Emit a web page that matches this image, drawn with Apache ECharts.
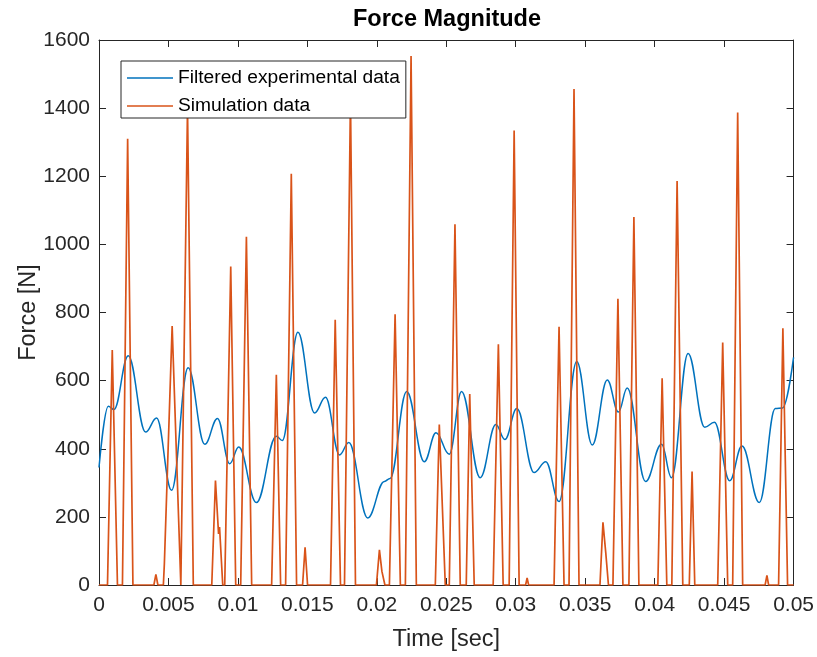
<!DOCTYPE html>
<html>
<head>
<meta charset="utf-8">
<script src="https://cdn.jsdelivr.net/npm/echarts@6/dist/echarts.min.js"></script>
<style>
html,body{margin:0;padding:0;background:#fff;}
#chart{width:817px;height:657px;}
</style>
</head>
<body>
<div id="chart"></div>
<script>
// ---- Data ----
const titleText = 'Force Magnitude';
const xName = 'Time [sec]';
const yName = 'Force [N]';
const seriesNames = ['Filtered experimental data', 'Simulation data'];

const xTickLabels = ['0','0.005','0.01','0.015','0.02','0.025','0.03','0.035','0.04','0.045','0.05'];
const yTickLabels = ['0','200','400','600','800','1000','1200','1400','1600'];

// Filtered experimental data (time in s, force in N) - local extrema / shoulders
const expTime = [0,0.000668,0.001078,0.002105,0.003355,0.004145,0.005223,0.006415,0.007615,0.008527,
  0.009411,0.010057,0.011329,0.012766,0.013197,0.014318,0.015517,0.016307,0.017313,0.017981,
  0.019346,0.020546,0.020955,0.022148,0.023420,0.024260,0.025216,0.026099,0.027443,0.028571,
  0.029217,0.030079,0.031322,0.032162,0.033118,0.034390,0.035510,0.036588,0.037392,0.038025,
  0.039346,0.040496,0.041214,0.042407,0.043606,0.044303,0.045402,0.046286,0.047536,0.048685,
  0.049210,0.05];
const expForce = [345,525,515,673,449,490,278,638,413,489,
  356,405,242,437,424,742,505,551,382,418,
  197,304,313,568,362,447,384,568,315,471,
  427,518,330,362,245,656,411,602,508,578,
  304,413,315,680,463,478,306,408,242,518,
  520,668];

// Simulation data (time in s, force in N) - pulse starts, peaks, ends
const simTime = [0,
  0.000611,0.000955,0.001329,
  0.001688,0.002062,0.002443,
  0.003951,0.004095,0.004239,
  0.004634,0.004705,0.005266,0.005891,
  0.005963,0.006372,0.006789,
  0.008118,0.008384,0.008606,0.008678,0.008908,
  0.009052,0.009483,0.009842,
  0.010201,0.010611,0.010991,
  0.012428,0.012766,0.013075,
  0.013434,0.013843,0.014224,
  0.014655,0.014835,0.015014,
  0.016667,0.017004,0.017385,
  0.017672,0.018103,0.018463,
  0.019971,0.020187,0.020366,0.020438,0.020582,
  0.020905,0.021315,0.021695,
  0.022055,0.022464,0.022845,
  0.024210,0.024497,0.024928,
  0.025216,0.025625,0.026006,
  0.026437,0.026688,0.027011,
  0.028376,0.028750,0.029095,
  0.029526,0.029885,0.030244,
  0.030711,0.030819,0.030927,
  0.032759,0.033118,0.033477,
  0.033836,0.034195,0.034555,
  0.036063,0.036279,0.036480,0.036530,0.036674,
  0.036997,0.037356,0.037716,
  0.038147,0.038506,0.038865,
  0.040230,0.040539,0.040876,
  0.041236,0.041616,0.042026,
  0.042493,0.042694,0.042888,
  0.044540,0.044899,0.045259,
  0.045618,0.045977,0.046336,
  0.047953,0.048082,0.048204,
  0.048922,0.049231,0.049569,
  0.05];
const simForce = [0,
  0,690,0,
  0,1310,0,
  0,31,0,
  0,62,760,0,
  0,1400,0,
  0,307,150,170,0,
  0,935,0,
  0,1022,0,
  0,617,0,
  0,1207,0,
  0,111,0,
  0,779,0,
  0,1430,0,
  0,103,40,45,0,
  0,795,0,
  0,1553,0,
  0,471,0,
  0,1059,0,
  0,561,0,
  0,707,0,
  0,1334,0,
  0,21,0,
  0,758,0,
  0,1456,0,
  0,184,95,90,0,
  0,840,0,
  0,1080,0,
  0,607,0,
  0,1186,0,
  0,333,0,
  0,712,0,
  0,1387,0,
  0,28,0,
  0,754,0,
  0];

// ---- Chart ----
const FONT = 'Liberation Sans';
const AX = '#262626';
const BLUE = '#0072BD';
const ORANGE = '#D95319';
const expPairs = expTime.map((t, i) => [t, expForce[i]]);
const simPairs = simTime.map((t, i) => [t, simForce[i]]);

const chart = echarts.init(document.getElementById('chart'), null, {renderer: 'canvas'});
const xFmt = v => xTickLabels[Math.round(v / 0.005)];
const yFmt = v => yTickLabels[Math.round(v / 200)];

const baseX = {
  type: 'value', min: 0, max: 0.05, interval: 0.005,
  splitLine: {show: false},
  axisLine: {show: true, onZero: false, lineStyle: {color: AX, width: 1}},
  axisTick: {show: true, inside: true, length: 7, lineStyle: {color: AX, width: 1}}
};
const baseY = {
  type: 'value', min: 0, max: 1600, interval: 200,
  splitLine: {show: false},
  axisLine: {show: true, onZero: false, lineStyle: {color: AX, width: 1}},
  axisTick: {show: true, inside: true, length: 7, lineStyle: {color: AX, width: 1}}
};

chart.setOption({
  animation: false,
  backgroundColor: '#fff',
  title: {
    text: titleText, left: 348, top: 3,
    textStyle: {fontFamily: FONT, fontSize: 23.5, fontWeight: 'bold', color: '#000'}
  },
  grid: {left: 99, right: 22, top: 40, bottom: 69, containLabel: false},
  legend: {
    data: [
      {name: seriesNames[0], icon: 'rect', itemStyle: {color: BLUE}},
      {name: seriesNames[1], icon: 'rect', itemStyle: {color: ORANGE}}
    ],
    orient: 'vertical', left: 121, top: 61,
    padding: [7.5, 6, 2.5, 6],
    itemGap: 9, itemWidth: 46, itemHeight: 1.6,
    backgroundColor: '#fff', borderColor: AX, borderWidth: 1, borderRadius: 0,
    textStyle: {fontFamily: FONT, fontSize: 19.2, lineHeight: 19, color: '#000'}
  },
  xAxis: [
    Object.assign({}, baseX, {
      position: 'bottom', name: xName, nameLocation: 'middle', nameGap: 43, nameMoveOverlap: false,
      nameTextStyle: {fontFamily: FONT, fontSize: 23.5, color: AX},
      axisLabel: {formatter: xFmt, margin: 10, fontFamily: FONT, fontSize: 21, color: AX, showMinLabel: true, showMaxLabel: true}
    }),
    Object.assign({}, baseX, {position: 'top', axisLabel: {show: false}})
  ],
  yAxis: [
    Object.assign({}, baseY, {
      position: 'left', name: yName, nameLocation: 'middle', nameGap: 58, nameRotate: 90, nameMoveOverlap: false,
      nameTextStyle: {fontFamily: FONT, fontSize: 23.5, color: AX},
      axisLabel: {formatter: yFmt, margin: 9, fontFamily: FONT, fontSize: 21, color: AX, showMinLabel: true, showMaxLabel: true}
    }),
    Object.assign({}, baseY, {position: 'right', axisLabel: {show: false}})
  ],
  series: [
    {
      name: seriesNames[0], type: 'line', xAxisIndex: 0, yAxisIndex: 0,
      data: expPairs, symbol: 'none', showSymbol: false,
      smooth: 0.4, smoothMonotone: 'x',
      color: BLUE,
      lineStyle: {color: BLUE, width: 1.5}, z: 2
    },
    {
      name: seriesNames[1], type: 'line', xAxisIndex: 0, yAxisIndex: 0,
      data: simPairs, symbol: 'none', showSymbol: false,
      color: ORANGE,
      lineStyle: {color: ORANGE, width: 1.7}, z: 3
    }
  ]
});
</script>
</body>
</html>
